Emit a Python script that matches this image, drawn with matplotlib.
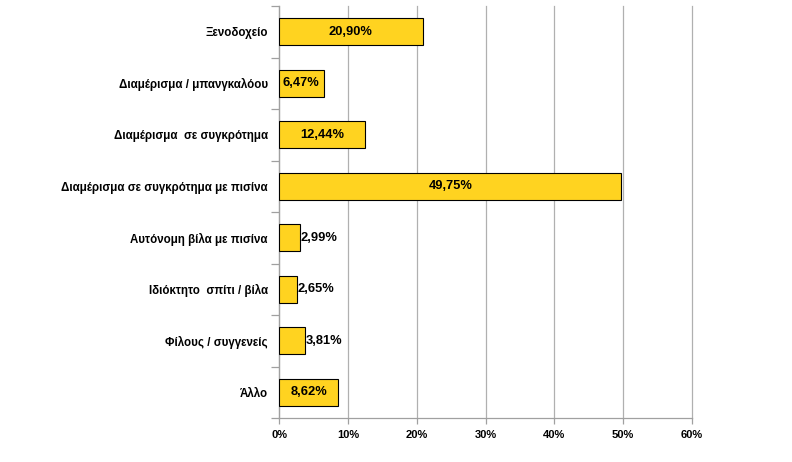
import matplotlib
matplotlib.use("Agg")
import matplotlib.pyplot as plt
import numpy as np
from matplotlib.ticker import FixedLocator, FuncFormatter

plt.rcParams['font.family'] = ['Liberation Sans', 'DejaVu Sans']

# dane
categories = [
    "Ξενοδοχείο",
    "Διαμέρισμα / μπανγκαλόου",
    "Διαμέρισμα  σε συγκρότημα",
    "Διαμέρισμα σε συγκρότημα με πισίνα",
    "Αυτόνομη βίλα με πισίνα",
    "Ιδιόκτητο  σπίτι / βίλα",
    "Φίλους / συγγενείς",
    "Άλλο",
]
values = [20.90, 6.47, 12.44, 49.75, 2.99, 2.65, 3.81, 8.62]
xticks = [0, 10, 20, 30, 40, 50, 60]

fig = plt.figure(figsize=(7.92, 4.62), dpi=100)
ax = fig.add_axes([279 / 792, 1 - 418 / 462, 413 / 792, 412 / 462])

y = np.arange(len(categories))
ax.barh(y, values, height=0.52, color="#FFD320", edgecolor="black", linewidth=0.8, zorder=3)

ax.set_xlim(0, 60)
ax.set_ylim(len(categories) - 0.5, -0.5)

ax.set_xticks(xticks)
ax.xaxis.set_major_formatter(FuncFormatter(lambda v, p: "%d%%" % v))
ax.grid(axis="x", color="#b0b0b0", linewidth=0.9, zorder=0)
for gl in ax.get_xgridlines():
    gl.set_clip_on(False)

ax.set_yticks(y)
ax.set_yticklabels(categories, fontsize=8.3, fontweight="bold")
ax.yaxis.set_minor_locator(FixedLocator(np.arange(-0.5, len(categories), 1.0)))
ax.tick_params(axis="y", which="major", length=0, pad=8)
ax.tick_params(axis="y", which="minor", length=6, color="#a0a0a0", width=0.9)
ax.tick_params(axis="x", length=4, color="#a0a0a0", width=0.9, labelsize=8, pad=5)
for lab in ax.get_xticklabels():
    lab.set_fontweight("bold")

for s in ["top", "right"]:
    ax.spines[s].set_visible(False)
for s in ["left", "bottom"]:
    ax.spines[s].set_color("#a0a0a0")
    ax.spines[s].set_linewidth(0.9)

# etykiety wartosci
for i, v in enumerate(values):
    txt = ("%.2f%%" % v).replace(".", ",")
    if v < 5:
        ax.text(v + 0.1, i, txt, va="center", ha="left", fontsize=9.3, fontweight="bold", zorder=4)
    else:
        ax.text(v / 2, i, txt, va="center", ha="center", fontsize=9.3, fontweight="bold", zorder=4)

fig.savefig("out.png", dpi=100)
